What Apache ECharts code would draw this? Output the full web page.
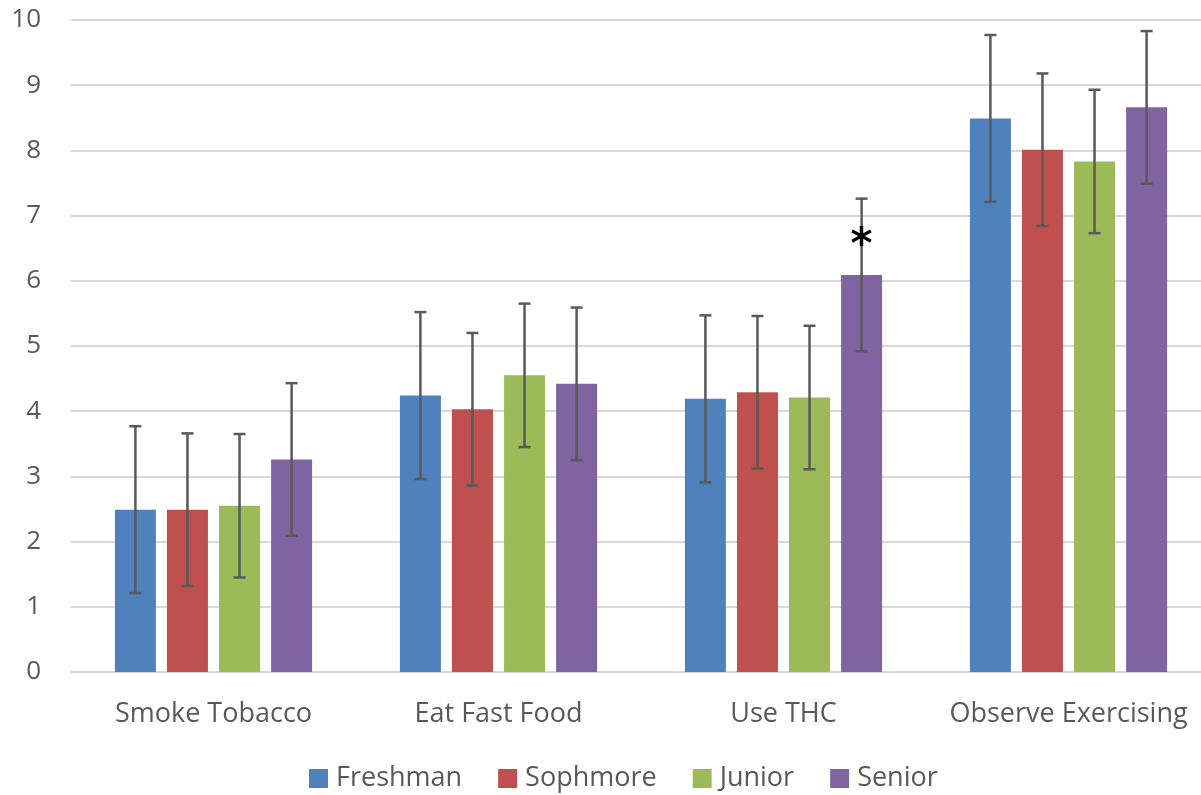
<!DOCTYPE html>
<html lang="en">
<head>
<meta charset="UTF-8" />
<title>Perceived frequency by class year</title>
<style>
  html, body { margin: 0; padding: 0; background: #fff; }
  #chart { width: 1201px; height: 795px; }
</style>
</head>
<body>
<div id="chart"></div>
<script src="https://cdn.jsdelivr.net/npm/echarts@6/dist/echarts.min.js"></script>
<script>
// data
const categories = ['Smoke Tobacco', 'Eat Fast Food', 'Use THC', 'Observe Exercising'];
const seriesNames = ['Freshman', 'Sophmore', 'Junior', 'Senior'];
const colors = ['#4f81bd', '#c0504d', '#9bbb59', '#8064a2'];

const freshman  = [2.49, 4.24, 4.19, 8.49];
const sophomore = [2.49, 4.03, 4.29, 8.01];
const junior    = [2.55, 4.55, 4.21, 7.83];
const senior    = [3.26, 4.42, 6.09, 8.66];

// error bar half-widths
const freshmanErr  = [1.28, 1.28, 1.28, 1.28];
const sophomoreErr = [1.17, 1.17, 1.17, 1.17];
const juniorErr    = [1.10, 1.10, 1.10, 1.10];
const seniorErr    = [1.17, 1.17, 1.17, 1.17];

// significance marks: [category index, series index, text]
const marks = [[2, 3, '*']];

const values = [freshman, sophomore, junior, senior];
const errors = [freshmanErr, sophomoreErr, juniorErr, seniorErr];

const BAR_W = 41;
const GAP = 0.27;
const STEP = BAR_W * (1 + GAP);
const FONT = '"Open Sans", "Noto Sans", sans-serif';

function offsetOf(s) {
  return (s - (seriesNames.length - 1) / 2) * STEP;
}

const errData = [];
values.forEach((vals, s) => {
  vals.forEach((v, c) => {
    errData.push([c, v - errors[s][c], v + errors[s][c], s]);
  });
});

const markData = marks.map(([c, s, t]) => [c, values[s][c], s, t]);

const barSeries = seriesNames.map((name, i) => ({
  name: name,
  type: 'bar',
  data: values[i],
  barWidth: BAR_W,
  barGap: (GAP * 100) + '%',
  itemStyle: { color: colors[i] },
  z: 2
}));

const chart = echarts.init(document.getElementById('chart'));
chart.setOption({
  animation: false,
  // the plot area runs a little past the right edge, as in the source
  grid: { left: 71, right: -10, top: 20, bottom: 123, outerBoundsMode: 'none' },
  legend: {
    bottom: -2,
    left: 304,
    itemWidth: 19,
    itemHeight: 19,
    itemGap: 36,
    icon: 'rect',
    data: seriesNames,
    textStyle: { fontFamily: FONT, fontSize: 27, color: '#595959', padding: [0, 0, 0, 3] }
  },
  xAxis: {
    type: 'category',
    data: categories,
    axisLine: { lineStyle: { color: '#d9d9d9', width: 2 } },
    axisTick: { show: false },
    axisLabel: { interval: 0, fontFamily: FONT, fontSize: 27, color: '#595959', margin: 29 }
  },
  yAxis: {
    type: 'value',
    min: 0,
    max: 10,
    interval: 1,
    axisLine: { show: false },
    axisTick: { show: false },
    splitLine: { lineStyle: { color: '#d9d9d9', width: 2 } },
    axisLabel: { fontFamily: FONT, fontSize: 26, color: '#595959', margin: 30 }
  },
  series: barSeries.concat([
    {
      type: 'custom',
      name: 'errors',
      data: errData,
      encode: { x: 0, y: [1, 2] },
      z: 5,
      renderItem: function (params, api) {
        const c = api.value(0);
        const s = api.value(3);
        const lo = api.coord([c, api.value(1)]);
        const hi = api.coord([c, api.value(2)]);
        const x = lo[0] + offsetOf(s);
        const cap = 6;
        const style = { stroke: '#595959', lineWidth: 2.5 };
        return {
          type: 'group',
          children: [
            { type: 'line', shape: { x1: x, y1: lo[1], x2: x, y2: hi[1] }, style: style },
            { type: 'line', shape: { x1: x - cap, y1: lo[1], x2: x + cap, y2: lo[1] }, style: style },
            { type: 'line', shape: { x1: x - cap, y1: hi[1], x2: x + cap, y2: hi[1] }, style: style }
          ]
        };
      }
    },
    {
      type: 'custom',
      name: 'marks',
      data: markData,
      encode: { x: 0, y: 1 },
      z: 6,
      renderItem: function (params, api) {
        const c = api.value(0);
        const s = api.value(2);
        const p = api.coord([c, api.value(1)]);
        return {
          type: 'text',
          style: {
            x: p[0] + offsetOf(s),
            y: p[1] - 28,
            text: markData[params.dataIndex][3],
            font: 'bold 42px "DejaVu Sans", sans-serif',
            fill: '#000',
            align: 'center',
            verticalAlign: 'middle'
          }
        };
      }
    }
  ])
});
</script>
</body>
</html>
